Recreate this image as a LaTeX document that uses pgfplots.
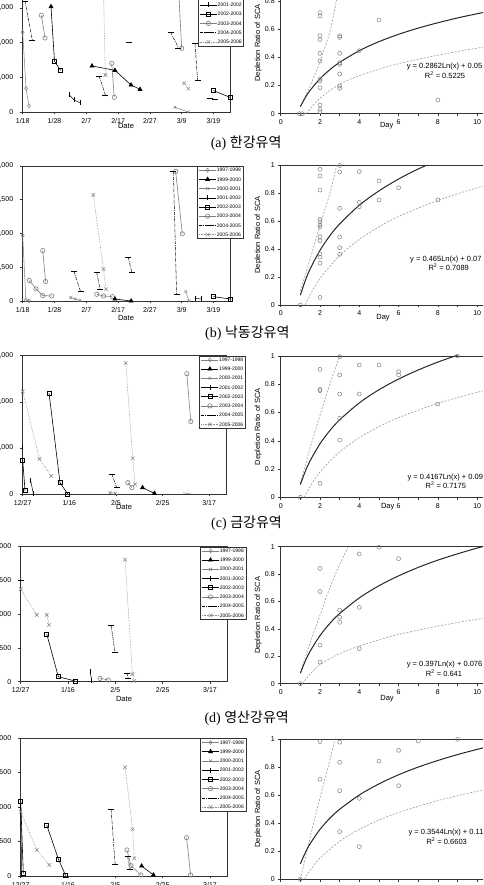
\documentclass[border=0pt]{standalone}
\usepackage{fontspec}
\setmainfont{Liberation Sans}
\newfontfamily\krfont{Noto Sans CJK KR}
\newfontfamily\serfont{Liberation Serif}
\usepackage{pgfplots}
\pgfplotsset{compat=1.18}
\pgfplotsset{
  base/.style={scale only axis, anchor=south west,
    axis line style={black!80, line width=0.6pt},
    tick style={black!80, line width=0.5pt}, tick align=outside,
    major tick length=2.5pt, minor tick length=2.5pt, tick pos=left,
    ticklabel style={font=\fontsize{7}{8}\selectfont},
    scaled ticks=false,
    /pgf/number format/assume math mode=true},
  leftax/.style={base, xmin=0, ymin=0, unbounded coords=jump,
    yticklabel style={xshift=-3.5pt},
    legend style={at={(#1,1)}, anchor=north west, font=\fontsize{5}{5}\selectfont,
      draw=black!80, line width=0.4pt, inner sep=1.5pt, row sep=4.3pt,
      nodes={inner sep=0.5pt, text height=3.7pt, text depth=0.2pt}},
    legend cell align=left},
  rightax/.style={base, xmin=0, xmax=12, ymin=0, ymax=1,
    xtick={0,2,4,6,8,10}, minor xtick={1,3,5,7,9,11},
    ytick={0,0.2,0.4,0.6,0.8,1}, yticklabels={0,0.2,0.4,0.6,0.8,1}},
  s97/.style={black!50, line width=0.5pt, mark=diamond, mark size=2pt, mark options={solid, fill=white}},
  s99/.style={black, line width=0.6pt, mark=triangle*, mark size=2.3pt, mark options={solid}},
  s00/.style={black!50, line width=0.5pt, mark=x, mark size=2pt, mark options={solid}},
  s01/.style={black, line width=0.5pt, mark=|, mark size=2.5pt, mark options={solid}},
  s02/.style={black, line width=0.6pt, mark=square, mark size=2pt, mark options={solid, fill=white}},
  s03/.style={black!50, line width=0.6pt, mark=o, mark size=2.2pt, mark options={solid, fill=white}},
  s04/.style={black, line width=0.5pt, dash pattern=on 3pt off 1pt on 0.8pt off 1pt, mark=-, mark size=3pt, mark options={solid}},
  s05/.style={black!45, line width=0.6pt, densely dotted, mark=x, mark size=2.5pt, mark options={solid}},
  pts/.style={only marks, mark=o, mark size=2pt, black!50, mark options={line width=0.5pt}},
  fit/.style={black!85, line width=1pt, no marks, smooth},
  env/.style={black!40, line width=0.6pt, no marks, smooth, dash pattern=on 2pt off 1.5pt},
}
\newcommand\yrlegend{%
  \addlegendimage{s97}\addlegendentry{1997-1998}
  \addlegendimage{s99}\addlegendentry{1999-2000}
  \addlegendimage{s00}\addlegendentry{2000-2001}
  \addlegendimage{s01}\addlegendentry{2001-2002}
  \addlegendimage{s02}\addlegendentry{2002-2003}
  \addlegendimage{s03}\addlegendentry{2003-2004}
  \addlegendimage{s04}\addlegendentry{2004-2005}
  \addlegendimage{s05}\addlegendentry{2005-2006}}
\newcommand\txt[1]{\fontsize{7.5}{8}\selectfont #1}
\begin{document}
\begin{tikzpicture}[x=1pt,y=1pt]
\useasboundingbox (0,0) rectangle (483,885);
\clip (0,0) rectangle (483,885);
% ================= (a) =================
\begin{axis}[leftax=0.845, at={(22.7pt,773pt)}, width=207.3pt, height=138.8pt,
  xmax=65.2, ymax=4000, ytick={0,1000,2000,3000,4000},
  xtick={0,10,20,30,40,50,60}, xticklabels={1/18,1/28,2/7,2/17,2/27,3/9,3/19}]
\yrlegend
\addplot[s97, forget plot] coordinates {(0,2296) (1.05,682) (2.0,173)};
\addplot[s03, forget plot] coordinates {(5.87,2786) (7.02,2133) (10,nan) (28.0,1403) (28.8,423) (40,nan) (48.6,4300) (50.0,1835)};
\addplot[black, line width=0.6pt, forget plot] coordinates {(8.9,3036) (10.0,1460)};
\addplot[s99, forget plot] coordinates {(8.9,3036) (15,nan) (21.8,1326) (29.0,1201) (34.07,778) (36.9,653)};
\addplot[s02, forget plot] coordinates {(10.0,1460) (11.95,1200) (30,nan) (60.0,615) (65.2,423)};
\addplot[s01, forget plot] coordinates {(14.7,490) (16.1,346) (18.0,269)};
\addplot[s04, forget plot] coordinates {(0.7,3200) (3.04,2075) (10,nan) (24.0,1038) (26.0,490) (30,nan) (33.5,1998) (40,nan) (46.5,2296) (49.0,1850) (52,nan) (54.2,1979) (55.0,922) (57,nan) (58.9,394) (60.5,365)};
\addplot[s05, forget plot] coordinates {(25.2,4300) (26.0,1066) (40,nan) (50.8,826) (52.1,672)};
\addplot[s00, forget plot] coordinates {(47.9,134) (52.1,0)};
\end{axis}
\begin{axis}[rightax, at={(280.7pt,771.3pt)}, width=235.8pt, height=141pt]
\addplot[env] coordinates {(1,0.05) (1.5,0.2) (2,0.37) (2.5,0.58) (2.85,0.81) (3.2,1.05)};
\addplot[env] coordinates {(1.3,0) (1.5,0.035) (2,0.11) (3,0.21) (4,0.27) (5,0.315) (6,0.355) (8,0.415) (10,0.465) (12,0.505)};
\addplot[fit] coordinates {(1,0.05) (1.25,0.114) (1.5,0.166) (2,0.248) (2.5,0.312) (3,0.364) (4,0.447) (5,0.511) (6,0.563) (7,0.607) (8,0.645) (9,0.679) (10,0.709) (11,0.736) (12,0.761)};
\addplot[pts] coordinates {(0.95,0) (1.1,0) (2,0.717) (2,0.693) (2,0.553) (2,0.527) (2,0.428) (2,0.374) (2,0.246) (2,0.232) (2,0.185) (2,0.062) (2,0.031) (2,0.014)
 (3,0.553) (3,0.541) (3,0.428) (3,0.362) (3,0.350) (3,0.282) (3,0.196) (3,0.180) (4,0.447) (5,0.664) (8,0.097)};
\end{axis}
\node[font=\txt{}] at (126,759) {Date};
\node[font=\txt{}] at (386.7,759) {Day};
\node[font=\txt{}, rotate=90] at (258.3,842) {Depletion Ratio of SCA};
\node[font=\txt{}, anchor=west] at (403.3,818) {y = 0.2862Ln(x) + 0.05};
\node[font=\txt{}] at (445,810) {R\textsuperscript{2} = 0.5225};
\node[anchor=west, font=\fontsize{14}{16}\selectfont] at (207.3,741.7) {\serfont (a) \krfont 한강유역};
% ================= (b) =================
\begin{axis}[leftax=0.841, at={(22.7pt,584pt)}, width=207.3pt, height=135pt,
  xmax=65.2, ymax=10000, ytick={0,2500,5000,7500,10000},
  xtick={0,10,20,30,40,50,60}, xticklabels={1/18,1/28,2/7,2/17,2/27,3/9,3/19}]
\yrlegend
\addplot[s97, forget plot] coordinates {(0,4851) (1.0,80) (2.0,20)};
\addplot[s03, forget plot] coordinates {(2.1,1518) (4.2,896) (6.3,398) (9.1,373) (9.5,nan) (6.3,3732) (7.2,1443) (10,nan) (23.3,498) (25.4,373) (28.2,323) (30,nan) (48.1,9600) (50.2,4976)};
\addplot[s04, forget plot] coordinates {(16.1,2189) (18.2,697) (20,nan) (23.3,2115) (24.3,896) (28,nan) (33.2,3234) (34.3,2140) (40,nan) (47.4,9600) (48.4,498)};
\addplot[s05, forget plot] coordinates {(22.2,7862) (25.4,2364) (26.2,871)};
\addplot[s00, forget plot] coordinates {(15.1,249) (16.5,149) (18.0,50) (30,nan) (51.3,697) (52.3,0)};
\addplot[s99, forget plot] coordinates {(29.0,149) (34.1,0)};
\addplot[s01, forget plot] coordinates {(54.2,200) (56.0,150)};
\addplot[s02, forget plot] coordinates {(60,323) (65.2,149)};
\end{axis}
\begin{axis}[rightax, at={(280.7pt,580pt)}, width=235.8pt, height=139.5pt]
\addplot[env] coordinates {(1,0.1) (1.5,0.33) (2,0.57) (2.5,0.8) (2.85,1.0) (3,1.08)};
\addplot[env] coordinates {(1.25,0) (1.5,0.074) (2,0.19) (3,0.354) (4,0.47) (5,0.56) (6,0.634) (8,0.75) (10,0.84) (12,0.914)};
\addplot[fit] coordinates {(1,0.07) (1.25,0.174) (1.5,0.259) (2,0.392) (2.5,0.496) (3,0.581) (4,0.715) (5,0.818) (6,0.903) (7,0.975) (8,1.037)};
\addplot[pts] coordinates {(1,0) (2,0.973) (2,0.925) (2,0.824) (2,0.614) (2,0.597) (2,0.573) (2,0.561) (2,0.490) (2,0.461) (2,0.366) (2,0.342) (2,0.299) (2,0.055)
 (3,1.0) (3,0.953) (3,0.693) (3,0.487) (3,0.411) (3,0.363) (4,0.956) (4,0.736) (4,0.705) (5,0.889) (5,0.753) (6,0.841) (8,0.753)};
\end{axis}
\node[font=\txt{}] at (126,566.7) {Date};
\node[font=\txt{}] at (383,567.3) {Day};
\node[font=\txt{}, rotate=90] at (258.3,650) {Depletion Ratio of SCA};
\node[font=\txt{}, anchor=west] at (406.7,625.7) {y = 0.465Ln(x) + 0.07};
\node[font=\txt{}] at (448.7,617.3) {R\textsuperscript{2} = 0.7089};
\node[anchor=west, font=\fontsize{14}{16}\selectfont] at (201.7,551.7) {\serfont (b) \krfont 낙동강유역};
% ================= (c) =================
\begin{axis}[leftax=0.866, at={(22.7pt,391pt)}, width=204pt, height=138.3pt,
  xmax=87.5, ymax=3000, ytick={0,1000,2000,3000},
  xtick={0,20,40,60,80}, xticklabels={12/27,1/16,2/5,2/25,3/17}]
\yrlegend
\addplot[s02, forget plot] coordinates {(0,739) (1.0,72) (5,nan) (11.3,2188) (16.0,246) (19.3,0)};
\addplot[s01, forget plot] coordinates {(3.4,290) (4.6,0) (4.8,nan) (0,1014)};
\addplot[s05, forget plot] coordinates {(0,2225) (7.2,761) (12.2,391) (20,nan) (44.2,2840) (47.2,775) (48.2,210)};
\addplot[s04, forget plot] coordinates {(38.2,435) (40.3,138)};
\addplot[s00, forget plot] coordinates {(37.5,29) (39.7,15)};
\addplot[s03, forget plot] coordinates {(45.1,246) (46.8,138) (50,nan) (70.4,2609) (72.1,1572)};
\addplot[s99, forget plot] coordinates {(51.4,138) (56.5,14)};
\addplot[s97, forget plot, mark=none] coordinates {(68.7,29) (72.1,0)};
\end{axis}
\begin{axis}[rightax, at={(280.7pt,387.7pt)}, width=235.8pt, height=141.3pt]
\addplot[env] coordinates {(1,0.1) (1.5,0.35) (2,0.58) (2.5,0.8) (3,1.0) (3.2,1.08)};
\addplot[env] coordinates {(1.2,0) (1.5,0.078) (2,0.179) (3,0.321) (4,0.422) (5,0.5) (6,0.564) (8,0.665) (10,0.743) (12,0.807)};
\addplot[fit] coordinates {(1,0.09) (1.25,0.183) (1.5,0.259) (2,0.379) (2.5,0.472) (3,0.548) (4,0.668) (5,0.761) (6,0.837) (7,0.901) (8,0.957) (9,1.006)};
\addplot[pts] coordinates {(1,0) (2,0.906) (2,0.764) (2,0.755) (2,0.099) (3,0.995) (3,0.866) (3,0.731) (3,0.559) (3,0.405)
 (4,0.936) (4,0.731) (5,0.936) (6,0.889) (6,0.866) (8,0.660) (9,1.0)};
\end{axis}
\node[font=\txt{}] at (124,377.7) {Date};
\node[font=\txt{}] at (387.7,378.3) {Day};
\node[font=\txt{}, rotate=90] at (258.3,458.3) {Depletion Ratio of SCA};
\node[font=\txt{}, anchor=west] at (404,407.3) {y = 0.4167Ln(x) + 0.09};
\node[font=\txt{}] at (445.8,399.3) {R\textsuperscript{2} = 0.7175};
\node[anchor=west, font=\fontsize{14}{16}\selectfont] at (207.7,361.7) {\serfont (c) \krfont 금강유역};
% ================= (d) =================
\begin{axis}[leftax=0.868, at={(20.7pt,203.3pt)}, width=206.6pt, height=135pt,
  xmax=87.3, ymax=2000, ytick={0,500,1000,1500,2000},
  xtick={0,20,40,60,80}, xticklabels={12/27,1/16,2/5,2/25,3/17}]
\yrlegend
\addplot[s04, forget plot] coordinates {(0,1500) (2,nan) (38.2,832) (39.9,431) (42,nan) (44.8,124) (45.5,50)};
\addplot[s05, forget plot] coordinates {(0,1371) (6.8,990) (9,nan) (11.0,990) (12.0,842) (20,nan) (44.1,1807) (47.2,114) (48.0,10)};
\addplot[s02, forget plot] coordinates {(11.0,708) (15.9,74) (23.0,10)};
\addplot[s01, forget plot] coordinates {(29.3,149) (30.0,25)};
\addplot[s03, forget plot] coordinates {(33.5,50) (37.0,25)};
\end{axis}
\begin{axis}[rightax, at={(280.7pt,201.3pt)}, width=235.8pt, height=137pt]
\addplot[env] coordinates {(1,0.08) (1.5,0.3) (2,0.5) (2.5,0.7) (3,0.87) (3.44,1.0) (3.6,1.05)};
\addplot[env] coordinates {(1.1,0) (1.5,0.07) (2,0.14) (3,0.22) (4,0.275) (5,0.32) (6,0.36) (8,0.42) (10,0.47) (12,0.5)};
\addplot[fit] coordinates {(1,0.076) (1.25,0.165) (1.5,0.237) (2,0.351) (2.5,0.440) (3,0.512) (4,0.626) (5,0.715) (6,0.787) (7,0.849) (8,0.902) (9,0.948) (10,0.990) (11,1.028)};
\addplot[pts] coordinates {(1,0) (2,0.842) (2,0.672) (2,0.282) (2,0.158) (3,0.538) (3,0.485) (3,0.448) (4,0.947) (4,0.557) (4,0.256) (5,0.996) (6,0.913)};
\end{axis}
\node[font=\txt{}] at (124,186) {Date};
\node[font=\txt{}] at (387,186.7) {Day};
\node[font=\txt{}, rotate=90] at (258.3,269.8) {Depletion Ratio of SCA};
\node[font=\txt{}, anchor=west] at (403.3,220.7) {y = 0.397Ln(x) + 0.076};
\node[font=\txt{}] at (444,211.7) {R\textsuperscript{2} = 0.641};
\node[anchor=west, font=\fontsize{14}{16}\selectfont] at (201,166.7) {\serfont (d) \krfont 영산강유역};
% ================= (e) =================
\begin{axis}[leftax=0.868, at={(20.7pt,9pt)}, width=206.6pt, height=137.7pt,
  xmax=87.3, ymax=2000, ytick={0,500,1000,1500,2000},
  xtick={0,20,40,60,80}, xticklabels={12/27,1/16,2/5,2/25,3/17}]
\yrlegend
\addplot[s02, forget plot] coordinates {(0,1090) (1.1,39) (5,nan) (11.0,741) (15.9,247) (19.0,5)};
\addplot[s01, forget plot] coordinates {(0,1008) (0.4,15)};
\addplot[s05, forget plot] coordinates {(0,935) (6.8,378) (12.1,160) (20,nan) (44.1,1579) (47.3,678) (48.0,257)};
\addplot[s04, forget plot] coordinates {(38.2,969) (39.9,170) (42,nan) (45.2,281) (46.2,100)};
\addplot[s03, forget plot] coordinates {(44.9,378) (46.6,150) (50.8,15) (60,nan) (70.1,557) (71.8,15)};
\addplot[s99, forget plot] coordinates {(51.1,145) (56.1,15)};
\end{axis}
\begin{axis}[rightax, at={(280.7pt,5.7pt)}, width=235.8pt, height=140.3pt]
\addplot[env] coordinates {(1,0.0) (1.5,0.3) (2,0.58) (2.5,0.85) (2.76,1.0) (2.9,1.08)};
\addplot[env] coordinates {(1.2,0) (1.5,0.066) (2,0.151) (3,0.271) (4,0.356) (5,0.422) (6,0.476) (8,0.561) (10,0.628) (12,0.682)};
\addplot[fit] coordinates {(1,0.11) (1.25,0.189) (1.5,0.254) (2,0.356) (2.5,0.435) (3,0.499) (4,0.601) (5,0.680) (6,0.745) (7,0.800) (8,0.847) (9,0.889) (10,0.926) (11,0.960) (12,0.991)};
\addplot[pts] coordinates {(1,0) (2,0.981) (2,0.713) (3,0.977) (3,0.834) (3,0.632) (3,0.340) (4,0.577) (4,0.233) (5,0.843) (6,0.919) (6,0.667) (7,0.986) (9,0.998)};
\end{axis}
\node[font=\txt{}, rotate=90] at (258.3,76) {Depletion Ratio of SCA};
\node[font=\txt{}, anchor=west] at (405,52.3) {y = 0.3544Ln(x) + 0.11};
\node[font=\txt{}] at (446.7,44) {R\textsuperscript{2} = 0.6603};
\end{tikzpicture}
\end{document}
